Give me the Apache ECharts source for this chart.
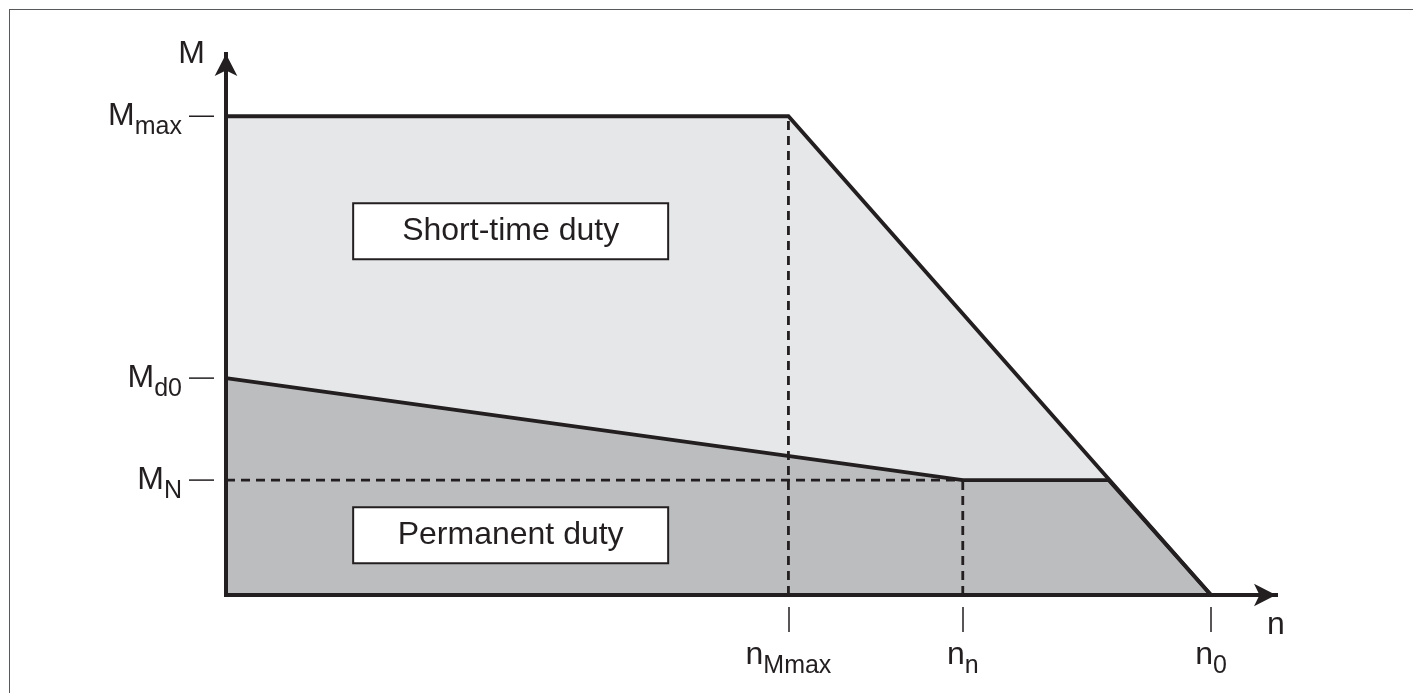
<!DOCTYPE html>
<html>
<head>
<meta charset="utf-8">
<script src="https://cdn.jsdelivr.net/npm/echarts@6/dist/echarts.min.js"></script>
<style>
  html, body { margin: 0; padding: 0; background: #fff; overflow: hidden; }
  #chart { width: 1413px; height: 693px; }
  #frame {
    position: absolute; left: 9px; top: 9px; width: 1420px; height: 700px;
    border-top: 1.5px solid #58595b; border-left: 1.5px solid #58595b;
    pointer-events: none;
  }
</style>
</head>
<body>
<div id="chart"></div>
<div id="frame"></div>
<script>
// speed n (n0 = 100) and torque M (Mmax = 100)
var nTicks = [57.1, 74.8, 100];
var nLabels = ["{m|n}{s|Mmax}", "{m|n}{s|n}", "{m|n}{s|0}"];
var mTicks = [100, 45.3, 24];
var mLabels = ["{m|M}{s|max}{g|}{t|}", "{m|M}{s|d0}{g|}{t|}", "{m|M}{s|N}{g|}{t|}"];

var shortTime = [[0, 100], [57.1, 100], [100, 0]];
var permanent = [[0, 45.3], [74.8, 24], [89.6, 24], [100, 0]];
var dashes = [
  [[57.1, 0], [57.1, 100]],
  [[74.8, 0], [74.8, 24]],
  [[0, 24], [74.8, 24]]
];
var boxes = [
  ["Short-time duty", 28.9, 76],
  ["Permanent duty", 28.9, 12.5]
];

(function () {
  "use strict";

  var ink = "#231f20";
  var font = "'Liberation Sans', Arial, Helvetica, sans-serif";

  // y labels: subscript pushed down with top padding, tick dash drawn as a token
  var richY = {
    m: { fontSize: 32, lineHeight: 32, fontFamily: font, color: ink },
    s: { fontSize: 25, lineHeight: 25, fontFamily: font, color: ink, padding: [22, 0, 0, 0] },
    g: { width: 7, height: 2 },
    t: { width: 25, height: 1.5, backgroundColor: ink }
  };
  var richX = {
    m: { fontSize: 32, lineHeight: 32, fontFamily: font, color: ink },
    s: { fontSize: 25, lineHeight: 25, fontFamily: font, color: ink, padding: [23, 0, 0, 0] }
  };

  function pick(ticks, labels) {
    return function (v) {
      for (var i = 0; i < ticks.length; i++) {
        if (Math.abs(ticks[i] - v) < 1e-6) return labels[i];
      }
      return "";
    };
  }

  var mainLine = { color: ink, width: 4, cap: "square" };

  var chart = echarts.init(document.getElementById("chart"));
  chart.setOption({
    animation: false,
    grid: { left: 226, right: 137, top: 54, bottom: 98, outerBoundsMode: "none" },
    xAxis: {
      type: "value", min: 0, max: 106.6, z: 5,
      name: "n", nameLocation: "end", nameGap: 0, nameMoveOverlap: false,
      nameTextStyle: {
        fontSize: 32, fontFamily: font, color: ink, lineHeight: 32,
        align: "center", verticalAlign: "top", padding: [14, 0, 0, 0]
      },
      axisLine: { show: true, symbol: ["none", "arrow"], symbolSize: [17, 22], lineStyle: mainLine },
      // tick detached from the axis: 12px gap, then a 25px stroke
      axisTick: {
        show: true, customValues: nTicks, length: 37,
        lineStyle: { color: ink, width: 1.5, type: [0, 12, 25, 100] }
      },
      axisLabel: {
        show: true, customValues: nTicks, margin: 44, align: "center", verticalAlign: "top",
        formatter: pick(nTicks, nLabels), rich: richX
      },
      splitLine: { show: false }
    },
    yAxis: {
      type: "value", min: 0, max: 113, z: 5,
      name: "M", nameLocation: "end", nameGap: 0, nameMoveOverlap: false,
      nameTextStyle: {
        fontSize: 32, fontFamily: font, color: ink, lineHeight: 32,
        align: "right", verticalAlign: "middle", padding: [0, 21, 0, 0]
      },
      axisLine: { show: true, symbol: ["none", "arrow"], symbolSize: [17, 22], lineStyle: mainLine },
      axisTick: { show: false },
      axisLabel: {
        show: true, customValues: mTicks, margin: 12, align: "right", verticalAlign: "middle",
        formatter: pick(mTicks, mLabels), rich: richY
      },
      splitLine: { show: false }
    },
    series: [
      {
        type: "line", data: shortTime, z: 1, silent: true, showSymbol: false, clip: false,
        lineStyle: { width: 0 }, areaStyle: { color: "#e6e7e8", opacity: 1 }
      },
      {
        type: "line", data: permanent, z: 1, silent: true, showSymbol: false, clip: false,
        lineStyle: { width: 0 }, areaStyle: { color: "#bcbdbf", opacity: 1 }
      }
    ].concat(dashes.map(function (d) {
      return {
        type: "line", data: d, z: 2, silent: true, showSymbol: false, clip: false,
        lineStyle: { color: ink, width: 2.8, type: [9, 6] }
      };
    })).concat([
      {
        type: "line", data: shortTime, z: 3, silent: true, showSymbol: false, clip: false,
        lineStyle: { color: ink, width: 3.8, join: "miter" }
      },
      {
        type: "line", data: permanent, z: 3, silent: true, showSymbol: false, clip: false,
        lineStyle: { color: ink, width: 3.8, join: "miter" }
      },
      {
        type: "scatter", z: 4, silent: true, symbolSize: 2,
        itemStyle: { color: "rgba(0,0,0,0)", opacity: 1 },
        data: boxes.map(function (b) { return { name: b[0], value: [b[1], b[2]] }; }),
        label: {
          show: true, position: "inside", formatter: "{b}", opacity: 1,
          fontSize: 32, fontFamily: font, color: ink,
          width: 313, height: 54, lineHeight: 54, align: "center", verticalAlign: "middle",
          backgroundColor: "#fff", borderColor: ink, borderWidth: 2
        },
        labelLayout: { hideOverlap: false }
      }
    ])
  });
})();
</script>
</body>
</html>
